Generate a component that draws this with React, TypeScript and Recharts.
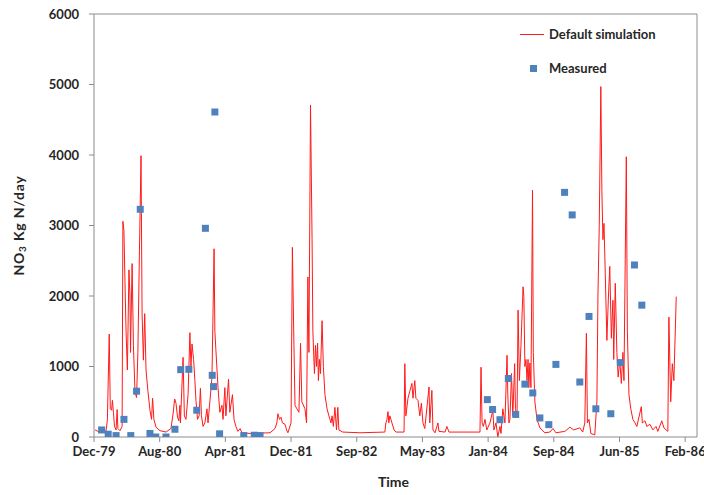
import { ComposedChart, Line, Scatter, XAxis, YAxis, ReferenceLine } from "recharts";

// x values are days counted from the Dec-79 tick
const tickLabels = ["Dec-79", "Aug-80", "Apr-81", "Dec-81", "Sep-82", "May-83", "Jan-84", "Sep-84", "Jun-85", "Feb-86"];
const tickStep = 250;
const yTicks = [0, 1000, 2000, 3000, 4000, 5000, 6000];

const simulated: [number, number][] = [
  [4, 100], [15, 80], [34, 70], [46, 90], [51, 250], [58, 1460], [62, 400], [67, 380], [70, 520], [74, 350],
  [78, 150], [84, 100], [88, 390], [91, 120], [99, 90], [107, 150], [110, 3060], [114, 2930], [118, 2180], [122, 1500],
  [127, 950], [133, 2370], [137, 2000], [139, 1200], [145, 2460], [150, 1300], [156, 640], [162, 560], [167, 1200], [173, 2650],
  [179, 3990], [183, 1750], [188, 1090], [193, 1750], [198, 950], [205, 660], [213, 380], [219, 250], [223, 550], [228, 250],
  [236, 140], [251, 90], [274, 70], [293, 120], [301, 330], [307, 540], [312, 480], [318, 280], [323, 230], [327, 450],
  [329, 200], [339, 1130], [344, 300], [350, 250], [358, 600], [365, 1480], [369, 1000], [373, 1320], [379, 1100], [384, 800],
  [388, 520], [394, 250], [400, 300], [405, 690], [409, 300], [415, 150], [422, 200], [430, 400], [434, 200], [441, 500],
  [449, 850], [457, 2670], [460, 1500], [464, 1230], [472, 700], [479, 350], [487, 450], [491, 250], [498, 700], [502, 300],
  [512, 820], [517, 350], [527, 600], [533, 250], [540, 150], [548, 80], [556, 120], [563, 60], [594, 50], [670, 60],
  [689, 120], [696, 200], [700, 330], [706, 250], [712, 280], [717, 200], [727, 180], [733, 100], [738, 60], [750, 200],
  [755, 2690], [761, 1300], [765, 450], [772, 400], [780, 350], [786, 1330], [791, 500], [803, 400], [809, 200], [814, 2270],
  [818, 1200], [824, 4710], [830, 2800], [833, 1500], [839, 900], [843, 1300], [847, 1000], [851, 1330], [854, 800], [858, 1100],
  [862, 900], [868, 1650], [873, 1000], [879, 600], [887, 400], [894, 300], [902, 200], [906, 300], [911, 150], [917, 420],
  [923, 100], [928, 420], [932, 100], [947, 70], [1012, 60], [1107, 70], [1111, 200], [1115, 250], [1119, 360], [1122, 200],
  [1126, 300], [1134, 200], [1142, 100], [1149, 70], [1180, 70], [1183, 1040], [1187, 300], [1195, 550], [1202, 650], [1210, 760],
  [1214, 550], [1221, 800], [1225, 550], [1233, 520], [1240, 300], [1246, 480], [1252, 200], [1259, 120], [1275, 710], [1278, 200],
  [1286, 660], [1290, 100], [1298, 60], [1309, 200], [1313, 80], [1336, 70], [1343, 150], [1351, 70], [1469, 70], [1473, 990],
  [1477, 200], [1482, 150], [1488, 250], [1495, 100], [1507, 200], [1518, 380], [1522, 100], [1530, 200], [1537, 0], [1545, 150],
  [1549, 50], [1556, 400], [1564, 200], [1572, 1160], [1575, 600], [1579, 200], [1583, 250], [1589, 900], [1594, 300], [1601, 1040],
  [1604, 400], [1610, 300], [1614, 1800], [1619, 800], [1625, 1300], [1633, 2130], [1636, 1990], [1640, 1000], [1644, 1100], [1648, 800],
  [1652, 1100], [1655, 700], [1659, 1050], [1663, 700], [1669, 3500], [1672, 1200], [1678, 500], [1686, 250], [1697, 130], [1716, 60],
  [1735, 70], [1747, 120], [1758, 60], [1792, 80], [1811, 140], [1826, 100], [1849, 130], [1860, 70], [1868, 200], [1874, 1470],
  [1878, 200], [1884, 250], [1891, 50], [1906, 30], [1914, 500], [1918, 2000], [1923, 3000], [1929, 4970], [1933, 3500], [1937, 2800],
  [1941, 3030], [1946, 2300], [1952, 1370], [1958, 2000], [1963, 2420], [1969, 1400], [1975, 1940], [1978, 1100], [1984, 2180], [1990, 1200],
  [1995, 850], [2001, 1100], [2007, 760], [2013, 1200], [2017, 800], [2026, 3975], [2030, 1500], [2036, 600], [2043, 400], [2051, 250],
  [2059, 200], [2066, 150], [2083, 430], [2087, 200], [2097, 230], [2104, 150], [2116, 180], [2127, 100], [2139, 150], [2146, 80],
  [2161, 230], [2169, 130], [2184, 80], [2188, 1700], [2195, 500], [2201, 1040], [2207, 800], [2216, 1990],
];

const measured: [number, number][] = [
  [29, 100], [54, 40], [84, 20], [114, 250], [140, 20], [162, 650], [176, 3230], [213, 50], [235, 0], [274, 0],
  [308, 110], [330, 955], [361, 960], [391, 380], [424, 2960], [450, 875], [455, 715], [460, 4610], [478, 45], [570, 20],
  [610, 25], [632, 20], [1497, 530], [1517, 390], [1545, 245], [1577, 830], [1605, 320], [1640, 750], [1670, 625], [1697, 270],
  [1731, 175], [1758, 1030], [1791, 3470], [1820, 3150], [1849, 780], [1884, 1710], [1910, 400], [1967, 330], [2003, 1055], [2057, 2440],
  [2085, 1870],
];

const lineData = simulated.map(([day, nitrate]) => ({ day, nitrate }));
const pointData = measured.map(([day, nitrate]) => ({ day, nitrate }));

const font = "Lato, 'Open Sans', sans-serif";
const axisGray = "#8c8c8c";
const textColor = "#262626";

function YTitle(props: any) {
  const vb = props.viewBox;
  const cy = vb.y + vb.height / 2;
  return (
    <text
      x={18}
      y={cy}
      transform={`rotate(-90 18 ${cy})`}
      textAnchor="middle"
      dominantBaseline="central"
      fontFamily={font}
      fontWeight="bold"
      fontSize={14}
      letterSpacing={0.8}
      fill={textColor}
    >
      NO<tspan fontSize={10} dy={4}>3</tspan>
      <tspan dy={-4}> Kg N/day</tspan>
    </text>
  );
}

function XTitle(props: any) {
  const vb = props.viewBox;
  return (
    <text x={vb.x + vb.width / 2 - 2} y={487} textAnchor="middle" fontFamily={font} fontWeight="bold" fontSize={14} fill={textColor}>
      Time
    </text>
  );
}

const square = (props: any) => (
  <rect x={props.cx - 3.5} y={props.cy - 3.5} width={7} height={7} fill="#4F81BD" />
);

export default function App() {
  const tickStyle = { fontFamily: font, fontWeight: "bold", fontSize: 13, fill: textColor };
  return (
    <div style={{ position: "absolute", left: 0, top: 0, width: 704, height: 495, background: "#fff" }}>
      <ComposedChart width={704} height={495} margin={{ top: 14, right: 7, bottom: 0, left: 0 }}>
        <XAxis
          type="number"
          dataKey="day"
          domain={[0, 2295]}
          ticks={tickLabels.map((_, i) => i * tickStep)}
          tickFormatter={(v: number) => tickLabels[Math.round(v / tickStep)]}
          height={58}
          tickSize={5}
          tickMargin={5}
          stroke={axisGray}
          tick={tickStyle}
          label={<XTitle />}
          allowDataOverflow
        />
        <YAxis
          type="number"
          domain={[0, 6000]}
          ticks={yTicks}
          width={94}
          tickSize={5}
          tickMargin={10}
          stroke={axisGray}
          tick={tickStyle}
          label={<YTitle />}
          allowDataOverflow
        />
        <ReferenceLine y={6000} stroke={axisGray} />
        <ReferenceLine x={2295} stroke={axisGray} />
        <Line
          data={lineData}
          dataKey="nitrate"
          type="linear"
          stroke="#ff1a1a"
          strokeWidth={1}
          dot={false}
          isAnimationActive={false}
        />
        <Scatter data={pointData} dataKey="nitrate" shape={square} isAnimationActive={false} />
      </ComposedChart>
      <div style={{ position: "absolute", left: 520, top: 24, fontFamily: font, fontWeight: "bold", fontSize: 13, color: textColor }}>
        <div style={{ display: "flex", alignItems: "center", height: 20 }}>
          <span style={{ display: "inline-block", width: 24, height: 1, background: "#ff1a1a", marginRight: 5 }} />
          Default simulation
        </div>
        <div style={{ display: "flex", alignItems: "center", height: 20, marginTop: 14 }}>
          <span style={{ display: "inline-block", width: 7, height: 7, background: "#4F81BD", marginLeft: 10, marginRight: 12 }} />
          Measured
        </div>
      </div>
    </div>
  );
}
